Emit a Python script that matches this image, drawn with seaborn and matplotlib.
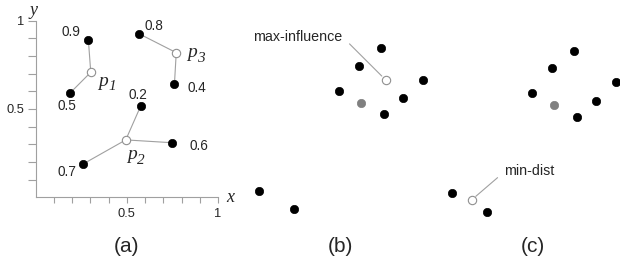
"""
Reverse k-NN / influence illustration: weighted objects (a), max-influence (b), min-dist (c).
Output: out.png
"""

import matplotlib
matplotlib.use("Agg")
import matplotlib.pyplot as plt
import numpy as np
import seaborn as sns

# ── data ────────────────────────────────────────────────────
# (a) reference points p1..p3 and their weighted objects
ref_x = [0.302, 0.494, 0.771]
ref_y = [0.708, 0.325, 0.819]
ref_idx = ["1", "2", "3"]

obj_x = [0.289, 0.190, 0.576, 0.748, 0.261, 0.567, 0.761]
obj_y = [0.889, 0.592, 0.517, 0.309, 0.189, 0.926, 0.640]
obj_w = ["0.9", "0.5", "0.2", "0.6", "0.7", "0.8", "0.4"]
obj_ref = [0, 0, 1, 1, 1, 2, 2]

# (b), (c) shared point set
pts_x = [0.726, 0.607, 0.963, 0.496, 0.848, 0.744, 0.050, 0.243]
pts_y = [0.901, 0.807, 0.730, 0.672, 0.632, 0.544, 0.130, 0.032]
query_x, query_y = 0.618, 0.607
maxinf_x, maxinf_y = 0.754, 0.730
mindist_x, mindist_y = 0.159, 0.095

# label offsets (points) for panel (a)
OBJ_OFF = [(-12.7, 6.2), (-2.6, -9.6), (-2.2, 7.9), (19.2, -2.2),
           (-12.0, -6.0), (11.0, 5.8), (16.0, -2.4)]
REF_OFF = [(9.0, -6.5), (4.2, -10.8), (11.4, 0.0)]

sns.set_theme(style="white")
plt.rcParams.update({
    "font.family": ["Liberation Sans", "DejaVu Sans"],
    "mathtext.fontset": "custom",
    "mathtext.it": "Liberation Serif:italic",
    "mathtext.rm": "Liberation Serif:italic",
    "mathtext.default": "it",
})

LINE = "#a0a0a0"
SERIF = {"family": "Liberation Serif", "style": "italic"}
DOT = 36
fig = plt.figure(figsize=(6.2, 2.65), dpi=100)

# ── (a) ─────────────────────────────────────────────────────
ax = fig.add_axes([0.0576, 0.2555, 0.294, 0.6664])
for ox, oy, r in zip(obj_x, obj_y, obj_ref):
    ax.plot([ref_x[r], ox], [ref_y[r], oy], color=LINE, lw=0.8, zorder=1)
sns.scatterplot(x=obj_x, y=obj_y, ax=ax, color="black", s=DOT, edgecolor="black",
                linewidth=0.5, zorder=3, clip_on=False)
sns.scatterplot(x=ref_x, y=ref_y, ax=ax, color="white", s=DOT, edgecolor="#909090",
                linewidth=0.8, zorder=3, clip_on=False)
for ox, oy, w, off in zip(obj_x, obj_y, obj_w, OBJ_OFF):
    ax.annotate(w, (ox, oy), xytext=off, textcoords="offset points",
                ha="center", va="center", fontsize=9.8)
for rx, ry, n, off in zip(ref_x, ref_y, ref_idx, REF_OFF):
    ax.annotate("p", (rx, ry), xytext=off, textcoords="offset points",
                ha="center", va="center", fontsize=14, **SERIF)
    ax.annotate(n, (rx, ry), xytext=(off[0] + 6.5, off[1] - 4.0), textcoords="offset points",
                ha="center", va="center", fontsize=11, **SERIF)

ax.set_xlim(0, 1)
ax.set_ylim(0, 1)
for side in ["top", "right"]:
    ax.spines[side].set_visible(False)
for side in ["left", "bottom"]:
    ax.spines[side].set_color(LINE)
    ax.spines[side].set_linewidth(0.8)
ticks = np.round(np.arange(0.1, 1.01, 0.1), 1)
ax.set_xticks(ticks)
ax.set_yticks(ticks)
tl = ["0.5" if t == 0.5 else "1" if t == 1.0 else "" for t in ticks]
ax.set_xticklabels(tl)
ax.set_yticklabels(tl)
ax.tick_params(axis="x", direction="out", length=4.5, width=0.8, color=LINE,
               labelsize=9.3, pad=3.5, bottom=True)
ax.tick_params(axis="y", direction="out", length=6, width=0.8, color=LINE,
               labelsize=9.3, pad=2, left=True)
ax.text(1.066, 0.0, "x", transform=ax.transAxes, ha="center", va="center",
        fontsize=13, **SERIF)
ax.text(-0.01, 1.06, "y", transform=ax.transAxes, ha="center", va="center",
        fontsize=13, **SERIF)
ax.text(0.5, -0.28, "(a)", transform=ax.transAxes, ha="center", va="center", fontsize=15)

# ── (b), (c) ────────────────────────────────────────────────
def point_panel(rect, label, label_y):
    a = fig.add_axes(rect)
    sns.scatterplot(x=pts_x, y=pts_y, ax=a, color="black", s=DOT, edgecolor="black",
                    linewidth=0.5, zorder=3, clip_on=False)
    sns.scatterplot(x=[query_x], y=[query_y], ax=a, color="#808080", s=DOT,
                    edgecolor="#808080", linewidth=0.5, zorder=3, clip_on=False)
    a.set_xlim(0, 1)
    a.set_ylim(0, 1)
    a.axis("off")
    a.text(0.5, label_y, label, transform=a.transAxes, ha="center", va="center", fontsize=15)
    return a

axb = point_panel([0.4032, 0.1887, 0.2903, 0.698], "(b)", -0.171)
sns.scatterplot(x=[maxinf_x], y=[maxinf_y], ax=axb, color="white", s=DOT,
                edgecolor="#909090", linewidth=0.8, zorder=4, clip_on=False)
axb.annotate("max-influence", (maxinf_x, maxinf_y), xytext=(0.513, 0.964),
             ha="right", va="center", fontsize=10.3,
             arrowprops=dict(arrowstyle="-", color=LINE, lw=0.8,
                             relpos=(1, 0.5), shrinkA=4, shrinkB=4))

axc = point_panel([0.7145, 0.1792, 0.2903, 0.698], "(c)", -0.157)
sns.scatterplot(x=[mindist_x], y=[mindist_y], ax=axc, color="white", s=DOT,
                edgecolor="#909090", linewidth=0.8, zorder=4, clip_on=False)
axc.annotate("min-dist", (mindist_x, mindist_y), xytext=(0.339, 0.253),
             ha="left", va="center", fontsize=10.3,
             arrowprops=dict(arrowstyle="-", color=LINE, lw=0.8,
                             relpos=(0, 0.4), shrinkA=3, shrinkB=4))

fig.savefig("out.png", dpi=100, facecolor="white")
